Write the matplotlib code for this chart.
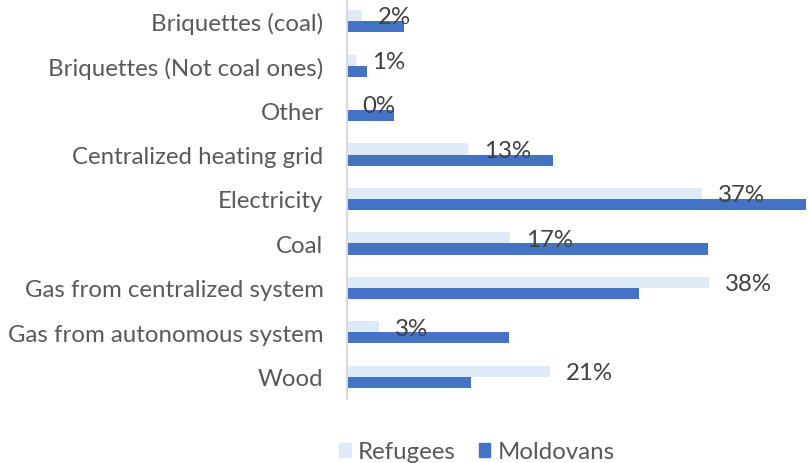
import matplotlib
matplotlib.use("Agg")
import matplotlib.pyplot as plt
from matplotlib.patches import Patch
import numpy as np

categories = ["Briquettes (coal)", "Briquettes (Not coal ones)", "Other",
              "Centralized heating grid", "Electricity", "Coal",
              "Gas from centralized system", "Gas from autonomous system", "Wood"]
refugees = [1.6, 1.0, 0.0, 12.6, 37.0, 17.0, 37.7, 3.4, 21.2]
moldovans = [6.0, 2.1, 4.9, 21.5, 47.8, 37.6, 30.4, 16.9, 12.9]
series_names = ["Refugees", "Moldovans"]
colors = ["#DEEBF7", "#4472C4"]

plt.rcParams['font.family'] = ['Lato', 'DejaVu Sans']
FS = 17.3

W, H = 808, 464
fig = plt.figure(figsize=(W/100, H/100), dpi=100)
ax = fig.add_axes([346.5/W, (H-400)/H, (806-346.5)/W, 400/H])

y = np.arange(len(categories))
bh = 0.25
ax.barh(y - bh/2, refugees, height=bh, color=colors[0])
ax.barh(y + bh/2, moldovans, height=bh, color=colors[1])

for yi, v in zip(y, refugees):
    ax.annotate(f"{round(v)}%", (v, yi - bh/2 + 0.03), xytext=(16, 0),
                textcoords="offset pixels",
                ha="left", va="center", fontsize=FS, color="#404040")

ax.set_ylim(len(categories) - 0.5, -0.5)
ax.set_xlim(0, 47.8)
ax.set_yticks(y)
ax.set_yticklabels(categories, fontsize=FS, color="#595959")
ax.tick_params(axis='y', length=0, pad=16.5)
ax.set_xticks([])
for s in ["top", "right", "bottom"]:
    ax.spines[s].set_visible(False)
ax.spines["left"].set_color("#D9D9D9")
ax.spines["left"].set_linewidth(1.5)

handles = [Patch(color=c, label=n) for c, n in zip(colors, series_names)]
fig.legend(handles=handles, loc="center", bbox_to_anchor=(477/W, 1 - 453/H),
           ncol=2, frameon=False, fontsize=FS, handlelength=0.48, handleheight=0.48,
           handletextpad=0.3, columnspacing=0.95, labelcolor="#595959",
           borderaxespad=0, borderpad=0)

fig.savefig("out.png", dpi=100)
